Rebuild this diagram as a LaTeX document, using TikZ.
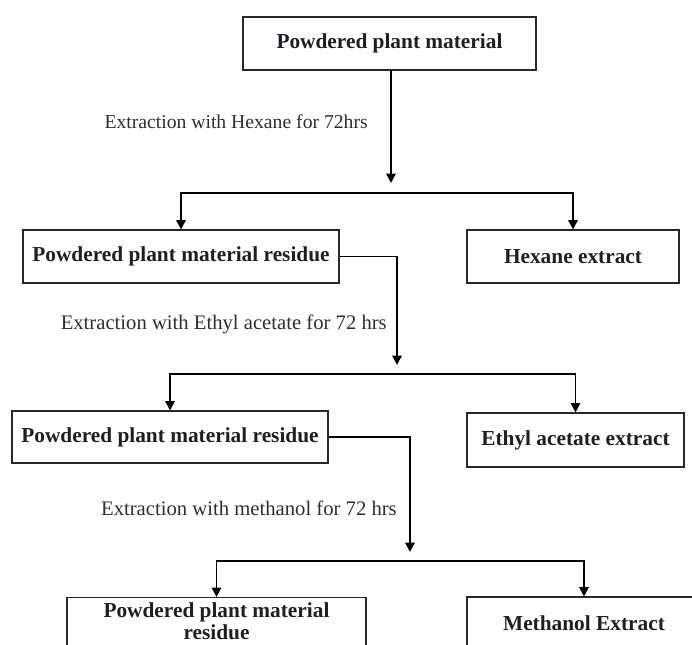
\documentclass[tikz,border=0pt]{standalone}
\usepackage{fontspec}
\setmainfont{Liberation Serif}
\usetikzlibrary{arrows.meta}

\begin{document}
\begin{tikzpicture}[x=0.75pt,y=0.75pt,yscale=-1,xscale=1,
  box/.style={draw={rgb, 255:red, 40; green, 40; blue, 40 }, line width=0.8pt, inner sep=0pt, minimum height=39.75pt, align=center, text={rgb, 255:red, 30; green, 30; blue, 40 }, font=\fontsize{16}{16.5}\selectfont\bfseries},
  lbl/.style={anchor=east, inner sep=0.75pt, text={rgb, 255:red, 45; green, 45; blue, 50 }, font=\fontsize{15.5}{18}\selectfont},
  arr/.style={line width=1.4pt, -{Triangle[length=7pt,width=7pt]}}]
\useasboundingbox (0,0) rectangle (692,644);
\clip (0,0) rectangle (692,644);

% Boxes
\node [box, minimum width=219.75pt] (top) at (389.5,43.5) {Powdered plant material};
\node [box, minimum width=237pt] (res1) at (181,256.5) {Powdered plant material residue};
\node [box, minimum width=159pt] (hex) at (573,256.5) {Hexane extract};
\node [box, minimum width=237pt, minimum height=39pt] (res2) at (170,437) {Powdered plant material residue};
\node [box, minimum width=162.75pt, minimum height=40.5pt] (eth) at (575.5,440) {Ethyl acetate extract};
\node [box, minimum width=224.25pt, minimum height=0pt, inner ysep=4pt, anchor=north] (res3) at (216.5,597) {Powdered plant material\\residue};
\node [box, minimum width=175.5pt] (meth) at (584,623.5) {Methanol Extract};

% Text Node
\node [lbl, font=\fontsize{14.75}{17}\selectfont] (l1) at (369,122) {Extraction with Hexane for 72hrs};
\node [lbl] (l2) at (388,324) {Extraction with Ethyl acetate for 72 hrs};
\node [lbl] (l3) at (398,508) {Extraction with methanol for 72 hrs};

% split points
\coordinate (j1) at (391,183);
\coordinate (b1) at (391,193);
\coordinate (j2) at (397,365);
\coordinate (b2) at (397,374);
\coordinate (j3) at (410,552);
\coordinate (b3) at (410,561);

%Straight Lines
\draw [arr] (top.south -| j1) -- (j1);
\draw [arr] (b1) -| (res1.north);
\draw [arr] (b1) -| (hex.north);

\draw [arr] (res1.east) -| (j2);
\draw [arr] (b2) -| (res2.north);
\draw [arr] (b2) -| (eth.north);

\draw [arr] (res2.east) -| (j3);
\draw [arr] (b3) -| (res3.north);
\draw [arr] (b3) -| (meth.north);

\end{tikzpicture}
\end{document}
